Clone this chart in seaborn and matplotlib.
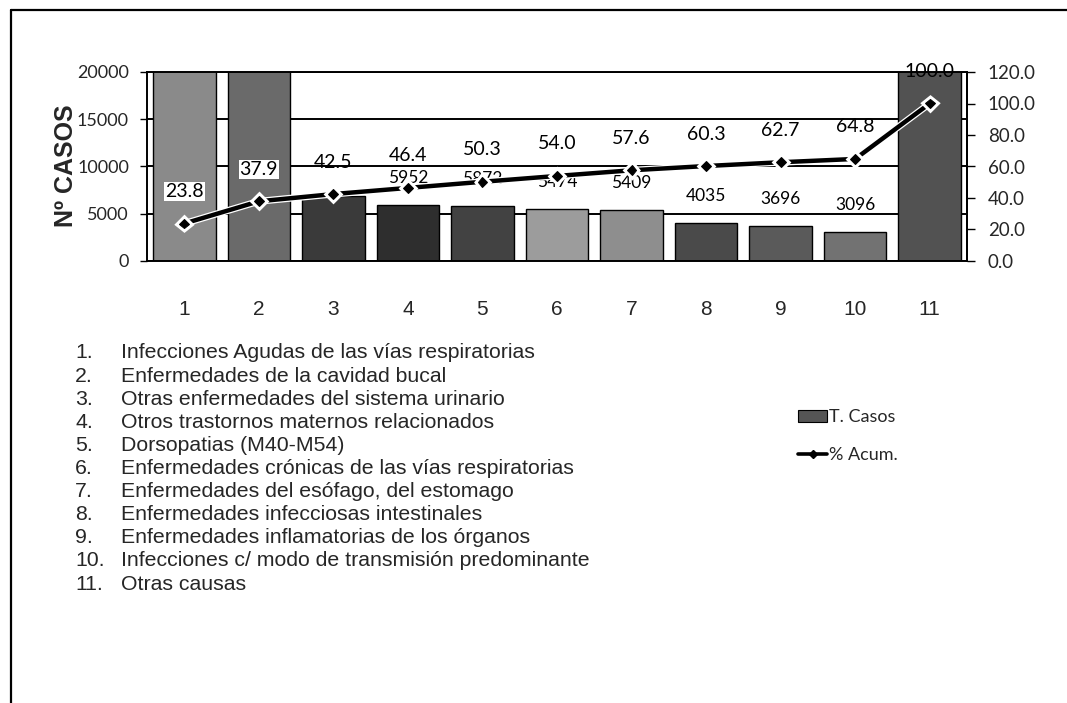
import numpy as np
import matplotlib
matplotlib.use("Agg")
import matplotlib.pyplot as plt
import matplotlib.patheffects as pe
from matplotlib.lines import Line2D
from matplotlib.patches import Patch
import seaborn as sns

# ---------------- data ----------------
categories = ["1", "2", "3", "4", "5", "6", "7", "8", "9", "10", "11"]
casos = [35790, 21200, 6900, 5952, 5872, 5474, 5409, 4035, 3696, 3096, 52930]
pct_acum = [23.8, 37.9, 42.5, 46.4, 50.3, 54.0, 57.6, 60.3, 62.7, 64.8, 100.0]
show_value = [False, False, False, True, True, True, True, True, True, True, False]
descripciones = [
    "Infecciones Agudas de las vías respiratorias",
    "Enfermedades de la cavidad bucal",
    "Otras enfermedades del sistema urinario",
    "Otros trastornos maternos relacionados",
    "Dorsopatias (M40-M54)",
    "Enfermedades crónicas de las vías respiratorias",
    "Enfermedades del esófago, del estomago",
    "Enfermedades infecciosas intestinales",
    "Enfermedades inflamatorias de los órganos",
    "Infecciones c/ modo de transmisión predominante",
    "Otras causas",
]
left_ticks = [0, 5000, 10000, 15000, 20000]
right_ticks = [0, 20, 40, 60, 80, 100, 120]

bar_grays = ["#8a8a8a", "#6a6a6a", "#3a3a3a", "#2e2e2e", "#424242", "#9c9c9c",
             "#8e8e8e", "#4a4a4a", "#5a5a5a", "#727272", "#525252"]

# ---------------- style ----------------
sns.set_style("white")
plt.rcParams["font.family"] = ["Lato", "DejaVu Sans"]
ARIAL = ["Liberation Sans", "DejaVu Sans"]

W, H = 1067, 703
fig = plt.figure(figsize=(W / 100, H / 100), dpi=100)

ax_l, ax_r, ax_t, ax_b = 147, 967, 72, 261
ax = fig.add_axes([ax_l / W, 1 - ax_b / H, (ax_r - ax_l) / W, (ax_b - ax_t) / H])

sns.barplot(x=categories, y=casos, hue=categories, palette=bar_grays, legend=False,
            width=0.84, edgecolor="black", linewidth=1.0, saturation=1, ax=ax, zorder=2)
ax.set_xlim(-0.5, len(categories) - 0.5)
ax.set_ylim(0, 20000)
ax.set_yticks(left_ticks)
ax.set_yticklabels([str(t) for t in left_ticks], fontsize=13)
ax.set_axisbelow(True)
ax.yaxis.grid(True, color="black", linewidth=1.4)
ax.set_xlabel("")
ax.set_ylabel("")
ax.set_xticks(range(len(categories)))
ax.set_xticklabels(categories, fontsize=15, family=ARIAL)
ax.tick_params(axis="x", which="major", length=0, pad=28)
ax.set_xticks(np.arange(-0.5, len(categories), 1), minor=True)
ax.tick_params(axis="x", which="minor", length=4, width=1, direction="out", color="black")
ax.tick_params(axis="y", length=5, width=1, direction="out", color="black", pad=8)
for s in ["left", "bottom", "right", "top"]:
    ax.spines[s].set_visible(True)
    ax.spines[s].set_color("black")
    ax.spines[s].set_linewidth(1.4)

for i, (v, show) in enumerate(zip(casos, show_value)):
    if show:
        ax.annotate(str(v), xy=(i, v), xytext=(0, 27), textcoords="offset pixels",
                    ha="center", va="center", fontsize=12.5, color="black", zorder=5)

ax2 = ax.twinx()
sns.lineplot(x=np.arange(len(categories)), y=pct_acum, ax=ax2, color="black",
             linewidth=3.2, marker="D", markersize=5, markeredgecolor="black",
             path_effects=[pe.Stroke(linewidth=5, foreground="white"), pe.Normal()],
             zorder=4)
ax2.set_ylim(0, 120)
ax2.set_yticks(right_ticks)
ax2.set_yticklabels([f"{t:.1f}" for t in right_ticks], fontsize=13.5)
ax2.tick_params(axis="y", length=6, width=1, direction="out", color="black", pad=9)
ax2.set_ylabel("")
for s in ["left", "bottom", "top"]:
    ax2.spines[s].set_visible(False)
ax2.spines["right"].set_color("black")
ax2.spines["right"].set_linewidth(1.4)

for i, p in enumerate(pct_acum):
    ax2.annotate(f"{p:.1f}", xy=(i, p), xytext=(0, 32), textcoords="offset pixels",
                 ha="center", va="center", fontsize=14, color="black", zorder=6,
                 bbox=dict(boxstyle="square,pad=0.05", fc="white", ec="none") if i < 2 else None)

# y label
fig.text(66 / W, 1 - 166 / H, "Nº CASOS", rotation=90, ha="center", va="center",
         fontsize=18, fontweight="bold", family=ARIAL)

# legend
handles = [Patch(facecolor="#555555", edgecolor="black", linewidth=0.8),
           Line2D([0], [0], color="black", lw=2.6, marker="D", markersize=4)]
fig.legend(handles, ["T. Casos", "% Acum."], loc="center left",
           bbox_to_anchor=(782 / W, 1 - 436 / H), frameon=False, fontsize=13,
           labelspacing=1.2, handlelength=1.6, handletextpad=0.1)

# description list
y0, dy = 353, 23.1
for k, txt in enumerate(descripciones):
    y = 1 - (y0 + k * dy) / H
    fig.text(75 / W, y, f"{k + 1}.", ha="left", va="center", fontsize=15.3, family=ARIAL)
    fig.text(121 / W, y, txt, ha="left", va="center", fontsize=15.3, family=ARIAL)

# frame
fig.add_artist(Line2D([11 / W, 11 / W], [0, 1 - 10 / H], color="black", lw=1.6,
                      transform=fig.transFigure))
fig.add_artist(Line2D([11 / W, 1], [1 - 10 / H, 1 - 10 / H], color="black", lw=1.6,
                      transform=fig.transFigure))

fig.savefig("out.png", dpi=100)
